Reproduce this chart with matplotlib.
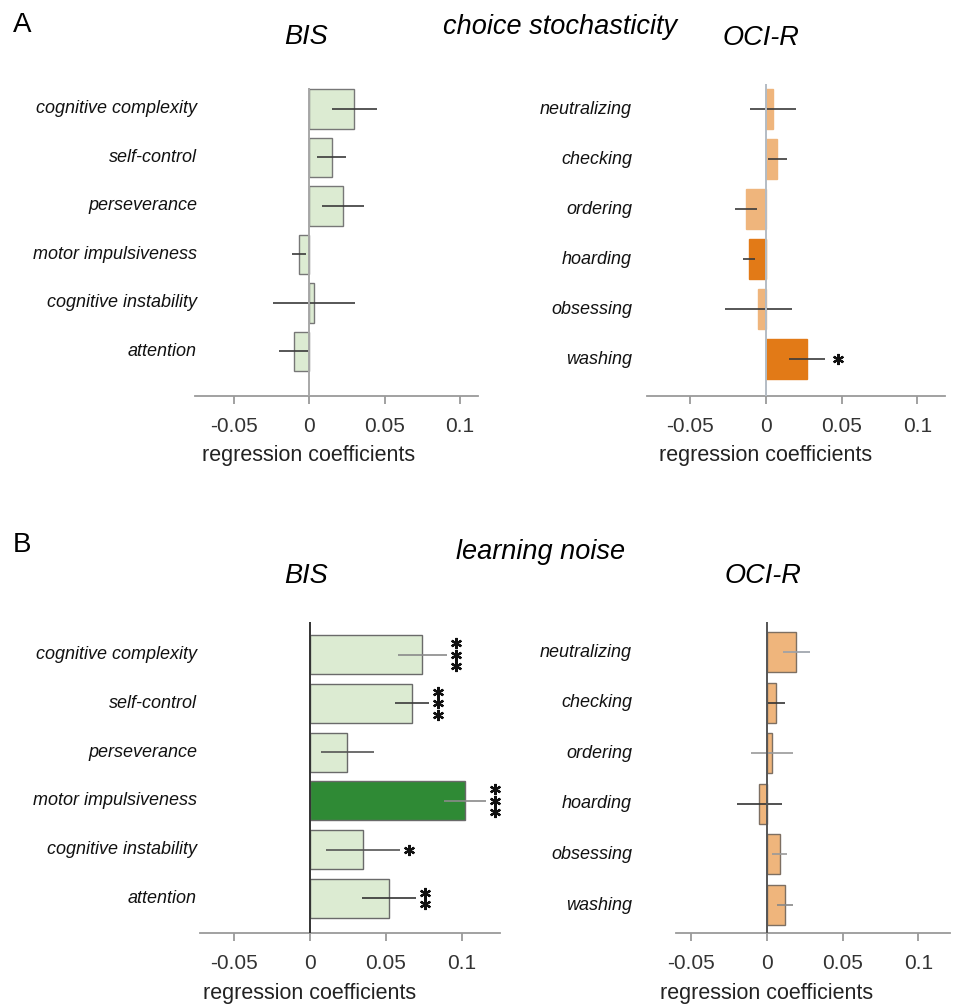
import matplotlib
matplotlib.use("Agg")
import matplotlib.pyplot as plt
from matplotlib import transforms

plt.rcParams['font.family'] = ['Liberation Sans', 'DejaVu Sans']

# ---------------- data ----------------
bis_labels = ["cognitive complexity", "self-control", "perseverance",
              "motor impulsiveness", "cognitive instability", "attention"]
oci_labels = ["neutralizing", "checking", "ordering", "hoarding",
              "obsessing", "washing"]
tick_values = [-0.05, 0, 0.05, 0.1]
tick_labels = ["-0.05", "0", "0.05", "0.1"]

# A: choice stochasticity
a_bis_coef = [0.030, 0.015, 0.0225, -0.0066, 0.0033, -0.010]
a_bis_err = [0.015, 0.0097, 0.014, 0.0047, 0.027, 0.010]
a_bis_stars = [0, 0, 0, 0, 0, 0]
a_oci_coef = [0.0045, 0.0073, -0.0133, -0.011, -0.005, 0.027]
a_oci_err = [0.015, 0.0063, 0.0073, 0.004, 0.022, 0.012]
a_oci_stars = [0, 0, 0, 0, 0, 1]

# B: learning noise
b_bis_coef = [0.074, 0.067, 0.0245, 0.102, 0.035, 0.052]
b_bis_err = [0.016, 0.011, 0.0175, 0.014, 0.0245, 0.018]
b_bis_stars = [3, 3, 0, 3, 1, 2]
b_oci_coef = [0.0195, 0.006, 0.0035, -0.005, 0.0086, 0.012]
b_oci_err = [0.009, 0.006, 0.014, 0.0147, 0.005, 0.0056]
b_oci_stars = [0, 0, 0, 0, 0, 0]

# ---------------- styles ----------------
LG = '#dcebd2'   # light green
DG = '#2f8a35'   # dark green
LO = '#efb57c'   # light orange
DO = '#e27a17'   # dark orange

W, H = 956, 1008
fig = plt.figure(figsize=(W / 100, H / 100), dpi=100)


def px_axes(x0, x1, y0, y1):
    return fig.add_axes([x0 / W, 1 - y1 / H, (x1 - x0) / W, (y1 - y0) / H])


def ftext(x, y, s, **kw):
    fig.text(x / W, 1 - y / H, s, **kw)


def panel(box, xlim, ylim, labels, coef, err, stars, colors, edgecolors,
          errcolors, zero_color, label_right_px, bar_h, star_dx_pt):
    ax = px_axes(*box)
    ax.set_xlim(*xlim)
    ax.set_ylim(*ylim)
    n = len(labels)
    ys = list(range(n))
    ax.barh(ys, coef, height=bar_h, color=colors, edgecolor=edgecolors,
            linewidth=1.0, zorder=2)
    for y, c, e, ec in zip(ys, coef, err, errcolors):
        ax.plot([c - e, c + e], [y, y], color=ec, lw=1.2, zorder=3,
                solid_capstyle='butt')
    ax.axvline(0, color=zero_color, lw=1.4, zorder=4)
    for sp in ['top', 'right', 'left']:
        ax.spines[sp].set_visible(False)
    ax.spines['bottom'].set_color('#9a9a9a')
    ax.spines['bottom'].set_linewidth(1.3)
    ax.set_yticks([])
    ax.set_xticks(tick_values)
    ax.set_xticklabels(tick_labels, fontsize=15, color='#333333')
    ax.tick_params(axis='x', direction='out', length=6, width=1.3,
                   color='#9a9a9a', pad=9)
    # category labels
    bt = transforms.blended_transform_factory(fig.transFigure, ax.transData)
    for y, lab in zip(ys, labels):
        ax.text(label_right_px / W, y, lab, transform=bt, ha='right',
                va='center', fontsize=13, style='italic', color='#111111')
    # significance stars
    for y, c, e, s in zip(ys, coef, err, stars):
        for k in range(s):
            dy = -((k - (s - 1) / 2) * 8.3)
            tr = ax.transData + transforms.ScaledTranslation(
                star_dx_pt / 72, dy / 72, fig.dpi_scale_trans)
            ax.plot([c + e], [y], marker=(6, 2, 0), ms=8, mew=1.6,
                    color='#111111', transform=tr, clip_on=False, zorder=5)
    return ax


# ---- A left ----
panel((195, 478, 88, 396), (-0.0755, 0.1119), (5.918, -0.433),
      bis_labels, a_bis_coef, a_bis_err, a_bis_stars,
      [LG] * 6, ['#777777'] * 6, ['#3a3a3a'] * 6, '#a8a8a8', 197, 0.82, 7)
# ---- A right ----
panel((647, 945, 84, 396), (-0.0787, 0.1183), (5.73, -0.51),
      oci_labels, a_oci_coef, a_oci_err, a_oci_stars,
      [LO, LO, LO, DO, LO, DO], [LO, LO, LO, DO, LO, DO],
      ['#3a3a3a'] * 6, '#b4bcc4', 632, 0.8, 9)
# ---- B left ----
panel((200, 500, 622, 933), (-0.0724, 0.125), (5.707, -0.666),
      bis_labels, b_bis_coef, b_bis_err, b_bis_stars,
      [LG, LG, LG, DG, LG, LG], ['#6a6a6a'] * 6,
      ['#8a8a8a', '#3a3a3a', '#555555', '#8a8a8a', '#555555', '#333333'],
      '#333333', 197, 0.8, 6.5)
# ---- B right ----
panel((676, 950, 622, 933), (-0.060, 0.121), (5.553, -0.593),
      oci_labels, b_oci_coef, b_oci_err, b_oci_stars,
      [LO] * 6, ['#7d6f62'] * 6,
      ['#9aa0a8', '#333333', '#999999', '#333333', '#999999', '#888888'],
      '#555555', 632, 0.79, 7)

# ---------------- titles / labels ----------------
ftext(22, 25, "A", fontsize=20, ha='center', va='center')
ftext(306, 37, "BIS", fontsize=19.5, style='italic', ha='center', va='center')
ftext(560, 27, "choice stochasticity", fontsize=19.5, style='italic',
      ha='center', va='center')
ftext(761, 38, "OCI-R", fontsize=19.5, style='italic', ha='center', va='center')

ftext(22, 545, "B", fontsize=20, ha='center', va='center')
ftext(306, 576, "BIS", fontsize=19.5, style='italic', ha='center', va='center')
ftext(541, 552, "learning noise", fontsize=19.5, style='italic',
      ha='center', va='center')
ftext(763, 576, "OCI-R", fontsize=19.5, style='italic', ha='center', va='center')

for xc, yc in [(309, 456), (766, 456), (310, 993), (767, 993)]:
    ftext(xc, yc, "regression coefficients", fontsize=15.5, ha='center',
          va='center', color='#222222')

fig.savefig("out.png", dpi=100)
